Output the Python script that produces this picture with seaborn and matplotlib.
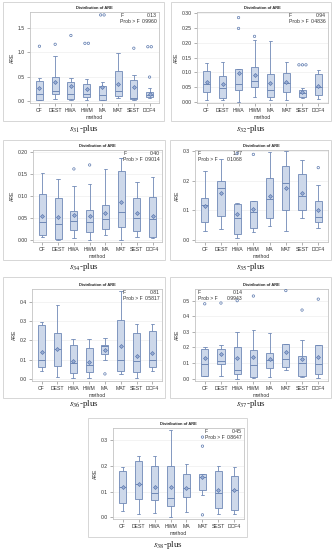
import numpy as np
import pandas as pd
import matplotlib
matplotlib.use("Agg")
import matplotlib.pyplot as plt
import seaborn as sns
from matplotlib.patches import Rectangle

methods = ["CF", "DEST", "HWA", "HWM", "MA", "MAT", "SEST", "DCF4"]

# ---- s31-plus ----
s31_low  = [0.02, 0.04, 0.02, 0.02, 0.02, 0.06, 0.02, 0.06]
s31_q1   = [0.03, 0.15, 0.05, 0.08, 0.02, 0.11, 0.05, 0.09]
s31_med  = [0.14, 0.21, 0.14, 0.15, 0.12, 0.21, 0.07, 0.12]
s31_q3   = [0.41, 0.50, 0.39, 0.34, 0.31, 0.61, 0.43, 0.19]
s31_high = [0.47, 0.93, 0.47, 0.46, 0.39, 0.98, 0.54, 0.26]
s31_mean = [0.26, 0.38, 0.30, 0.25, 0.28, 0.34, 0.29, 0.14]
s31_flier_method = ["CF", "DEST", "HWA", "HWM", "HWM", "MA", "MA", "SEST", "DCF4", "DCF4", "DCF4"]
s31_flier_value  = [1.12, 1.16, 1.34, 1.18, 1.18, 1.76, 1.76, 1.08, 0.49, 1.11, 1.11]

# ---- s32-plus ----
s32_low  = [0.006, 0.006, 0.000, 0.016, 0.006, 0.006, 0.012, 0.008]
s32_q1   = [0.034, 0.012, 0.040, 0.048, 0.017, 0.034, 0.017, 0.023]
s32_med  = [0.059, 0.047, 0.060, 0.069, 0.040, 0.064, 0.029, 0.051]
s32_q3   = [0.105, 0.088, 0.110, 0.117, 0.095, 0.098, 0.039, 0.095]
s32_high = [0.130, 0.134, 0.112, 0.210, 0.205, 0.135, 0.045, 0.107]
s32_mean = [0.065, 0.060, 0.098, 0.091, 0.063, 0.065, 0.034, 0.054]
s32_flier_method = ["HWA", "HWA", "HWM", "SEST", "SEST", "SEST"]
s32_flier_value  = [0.286, 0.249, 0.222, 0.125, 0.125, 0.125]

# ---- s34-plus ----
s34_low  = [0.007, 0.001, 0.005, 0.000, 0.012, 0.001, 0.007, 0.004]
s34_q1   = [0.013, 0.003, 0.023, 0.019, 0.026, 0.031, 0.020, 0.007]
s34_med  = [0.042, 0.037, 0.044, 0.041, 0.048, 0.065, 0.051, 0.049]
s34_q3   = [0.104, 0.095, 0.067, 0.068, 0.080, 0.158, 0.095, 0.098]
s34_high = [0.153, 0.138, 0.123, 0.128, 0.161, 0.187, 0.132, 0.143]
s34_mean = [0.055, 0.052, 0.057, 0.055, 0.062, 0.086, 0.061, 0.055]
s34_flier_method = ["HWA", "HWM"]
s34_flier_value  = [0.162, 0.171]

# ---- s35-plus ----
s35_low  = [0.028, 0.035, 0.005, 0.025, 0.045, 0.030, 0.072, 0.040]
s35_q1   = [0.060, 0.080, 0.018, 0.040, 0.075, 0.100, 0.100, 0.060]
s35_med  = [0.117, 0.177, 0.075, 0.095, 0.138, 0.192, 0.147, 0.078]
s35_q3   = [0.140, 0.200, 0.122, 0.130, 0.210, 0.250, 0.225, 0.132]
s35_high = [0.232, 0.275, 0.124, 0.130, 0.298, 0.300, 0.272, 0.185]
s35_mean = [0.113, 0.158, 0.087, 0.104, 0.147, 0.175, 0.160, 0.102]
s35_flier_method = ["HWA", "HWM", "DCF4"]
s35_flier_value  = [0.293, 0.290, 0.245]

# ---- s36-plus ----
s36_low  = [0.040, 0.010, 0.004, 0.002, 0.100, 0.025, 0.004, 0.038]
s36_q1   = [0.062, 0.067, 0.030, 0.035, 0.130, 0.040, 0.035, 0.060]
s36_med  = [0.100, 0.155, 0.082, 0.072, 0.172, 0.098, 0.091, 0.100]
s36_q3   = [0.280, 0.240, 0.177, 0.160, 0.175, 0.306, 0.240, 0.250]
s36_high = [0.297, 0.386, 0.207, 0.207, 0.213, 0.456, 0.283, 0.287]
s36_mean = [0.140, 0.157, 0.093, 0.086, 0.150, 0.172, 0.121, 0.135]
s36_flier_method = ["MA"]
s36_flier_value  = [0.025]

# ---- s37-plus ----
s37_low  = [0.020, 0.020, 0.000, 0.007, 0.008, 0.057, 0.008, 0.003]
s37_q1   = [0.020, 0.092, 0.030, 0.010, 0.070, 0.077, 0.020, 0.030]
s37_med  = [0.095, 0.112, 0.053, 0.090, 0.120, 0.123, 0.100, 0.092]
s37_q3   = [0.190, 0.193, 0.200, 0.187, 0.163, 0.222, 0.143, 0.215]
s37_high = [0.200, 0.217, 0.298, 0.309, 0.290, 0.222, 0.250, 0.215]
s37_mean = [0.130, 0.158, 0.130, 0.138, 0.123, 0.170, 0.123, 0.137]
s37_flier_method = ["CF", "DEST", "HWA", "HWM", "MAT", "SEST", "DCF4"]
s37_flier_value  = [0.480, 0.485, 0.500, 0.530, 0.565, 0.440, 0.510]

# ---- s38-plus ----
s38_low  = [0.026, 0.013, 0.018, 0.000, 0.021, 0.085, 0.013, 0.013]
s38_q1   = [0.055, 0.070, 0.068, 0.045, 0.078, 0.105, 0.035, 0.028]
s38_med  = [0.118, 0.130, 0.093, 0.076, 0.114, 0.156, 0.095, 0.104]
s38_q3   = [0.178, 0.216, 0.198, 0.197, 0.166, 0.169, 0.180, 0.160]
s38_high = [0.194, 0.236, 0.236, 0.336, 0.206, 0.169, 0.197, 0.196]
s38_mean = [0.118, 0.130, 0.117, 0.118, 0.114, 0.156, 0.106, 0.104]
s38_flier_method = ["MAT", "MAT", "MAT"]
s38_flier_value  = [0.310, 0.275, 0.010]

f_values    = ["0.13", "0.94", "0.40", "1.77", "0.81", "0.14", "0.45"]
prob_values = ["0.9960", "0.4836", "0.9014", "0.1068", "0.5817", "0.9943", "0.8647"]
captions    = ["31", "32", "34", "35", "36", "37", "38"]

W, H = 334, 550
FILL = "#cdd8ea"
EDGE = "#6f88b6"
MARK = "#5b78ad"
SPINE = "#c4c4c4"
FRAME = "#d6d6d6"
FS = 3.7

sns.set_theme(style="white")
plt.rcParams["font.family"] = ["Liberation Sans", "DejaVu Sans"]
plt.rcParams["mathtext.fontset"] = "stix"

fig = plt.figure(figsize=(W / 100, H / 100), dpi=100)


def px_axes(l, t, r, b):
    return fig.add_axes([l / W, 1 - b / H, (r - l) / W, (b - t) / H])


panels = [
    dict(d=(s31_low, s31_q1, s31_med, s31_q3, s31_high, s31_mean, s31_flier_method, s31_flier_value),
         ax=(30, 12, 159, 103), frame=(3, 2, 164, 121), cap=129,
         ylim=(-0.04, 1.82), ticks=[0, 0.5, 1.0, 1.5], fmt="{:.1f}", side="right"),
    dict(d=(s32_low, s32_q1, s32_med, s32_q3, s32_high, s32_mean, s32_flier_method, s32_flier_value),
         ax=(197, 12, 328, 103), frame=(171, 2, 331, 121), cap=129,
         ylim=(-0.005, 0.305), ticks=[0, 0.05, 0.10, 0.15, 0.20, 0.25, 0.30], fmt="{:.2f}", side="right"),
    dict(d=(s34_low, s34_q1, s34_med, s34_q3, s34_high, s34_mean, s34_flier_method, s34_flier_value),
         ax=(33, 150, 162, 242), frame=(3, 140, 165, 260), cap=267,
         ylim=(-0.004, 0.205), ticks=[0, 0.05, 0.10, 0.15, 0.20], fmt="{:.2f}", side="right"),
    dict(d=(s35_low, s35_q1, s35_med, s35_q3, s35_high, s35_mean, s35_flier_method, s35_flier_value),
         ax=(195, 150, 328, 242), frame=(170, 140, 331, 260), cap=267,
         ylim=(-0.008, 0.305), ticks=[0, 0.1, 0.2, 0.3], fmt="{:.1f}", side="left"),
    dict(d=(s36_low, s36_q1, s36_med, s36_q3, s36_high, s36_mean, s36_flier_method, s36_flier_value),
         ax=(32, 289, 162, 381), frame=(3, 277, 165, 398), cap=404,
         ylim=(-0.012, 0.468), ticks=[0, 0.1, 0.2, 0.3, 0.4], fmt="{:.1f}", side="right"),
    dict(d=(s37_low, s37_q1, s37_med, s37_q3, s37_high, s37_mean, s37_flier_method, s37_flier_value),
         ax=(195, 289, 328, 381), frame=(170, 277, 331, 398), cap=404,
         ylim=(-0.015, 0.575), ticks=[0, 0.1, 0.2, 0.3, 0.4, 0.5], fmt="{:.1f}", side="left"),
    dict(d=(s38_low, s38_q1, s38_med, s38_q3, s38_high, s38_mean, s38_flier_method, s38_flier_value),
         ax=(113, 428, 244, 519), frame=(88, 418, 247, 537), cap=545,
         ylim=(-0.006, 0.345), ticks=[0, 0.1, 0.2, 0.3], fmt="{:.1f}", side="right"),
]

for i, p in enumerate(panels):
    lo, q1, med, q3, hi, mean, fm, fv = p["d"]
    l, t, r, b = p["frame"]
    fig.patches.append(Rectangle((l / W, 1 - b / H), (r - l) / W, (b - t) / H,
                                 transform=fig.transFigure, fill=False,
                                 edgecolor=FRAME, linewidth=0.7))
    ax = px_axes(*p["ax"])
    df = pd.DataFrame({
        "method": np.repeat(methods, 5),
        "ARE": np.column_stack([lo, q1, med, q3, hi]).ravel(),
    })
    sns.boxplot(data=df, x="method", y="ARE", order=methods, whis=(0, 100),
                width=0.45, showfliers=False, color=FILL, linecolor=EDGE,
                saturation=1, linewidth=0.6, ax=ax,
                medianprops=dict(color=EDGE, linewidth=0.7))
    # mean markers
    sns.scatterplot(x=np.arange(len(methods)), y=mean, marker="D", s=4,
                    color="#9db0d6", edgecolor=MARK, linewidth=0.5, ax=ax, zorder=5)
    # outliers, with a small side offset for coincident values
    fx, seen = [], {}
    for m, v in zip(fm, fv):
        k = (m, v)
        n = seen.get(k, 0)
        seen[k] = n + 1
        cnt = sum(1 for mm, vv in zip(fm, fv) if (mm, vv) == k)
        off = (n - (cnt - 1) / 2) * 0.22
        fx.append(methods.index(m) + off)
    sns.scatterplot(x=fx, y=fv, marker="o", s=3, facecolor="none",
                    edgecolor=MARK, linewidth=0.5, ax=ax, zorder=5)

    ax.set_xlim(-0.6, 7.6)
    ax.set_ylim(*p["ylim"])
    ax.set_yticks(p["ticks"])
    ax.set_yticklabels([p["fmt"].format(v) for v in p["ticks"]])
    ax.set_xticks(range(len(methods)))
    ax.set_xticklabels(methods)
    ax.tick_params(axis="both", labelsize=FS, length=2, width=0.5,
                   color="#909090", pad=1.5, labelcolor="#333333")
    ax.tick_params(axis="x", bottom=True)
    ax.tick_params(axis="y", left=True)
    ax.yaxis.grid(True, color="#eeeeee", linewidth=0.5)
    ax.set_axisbelow(True)
    for s in ax.spines.values():
        s.set_color(SPINE)
        s.set_linewidth(0.6)
    ax.set_xlabel("method", fontsize=FS, labelpad=1.5, color="#333333")
    ax.set_ylabel("ARE", fontsize=FS, labelpad=2.5, color="#333333")

    # ANOVA inset
    if p["side"] == "right":
        x0, x1 = 0.70, 0.985
    else:
        x0, x1 = 0.02, 0.36
    kw = dict(transform=ax.transAxes, fontsize=FS, color="#333333", va="top")
    ax.text(x0, 0.985, "F", ha="left", **kw)
    ax.text(x1, 0.985, f_values[i], ha="right", **kw)
    ax.text(x0, 0.925, "Prob > F", ha="left", **kw)
    ax.text(x1, 0.925, prob_values[i], ha="right", **kw)

    al, at, ar, ab = p["ax"]
    fig.text((al + ar) / 2 / W, 1 - (at - 2) / H, "Distribution of ARE",
             ha="center", va="bottom", fontsize=2.9, fontweight="bold", color="#222222")
    fig.text((l + r) / 2 / W, 1 - p["cap"] / H, r"$s_{" + captions[i] + r"}$-plus",
             ha="center", va="center", fontsize=6.5, family="Liberation Serif", color="#222222")

fig.savefig("out.png", dpi=100, facecolor="white")
